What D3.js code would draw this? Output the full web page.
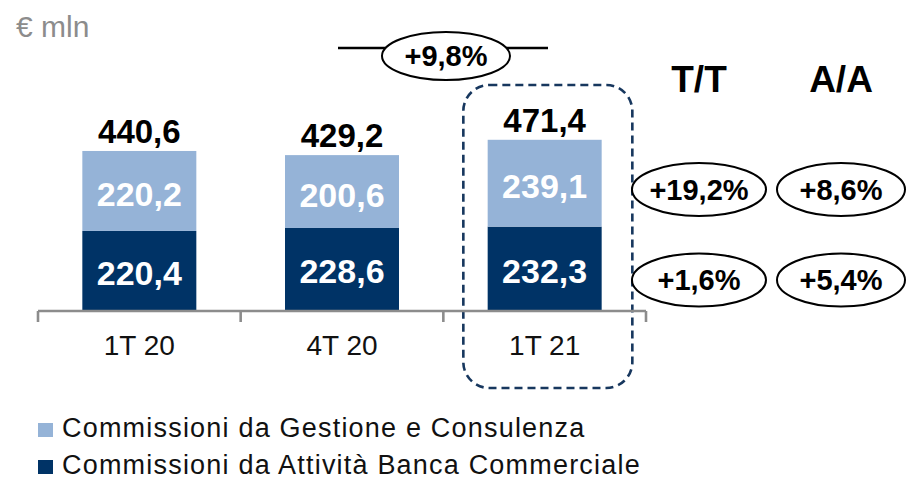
<!DOCTYPE html>
<html>
<head>
<meta charset="utf-8">
<script src="https://cdn.jsdelivr.net/npm/d3@7"></script>
<style>
  html, body { margin: 0; padding: 0; background: #fff; }
  svg { display: block; font-family: 'Liberation Sans', Arial, sans-serif; }
</style>
</head>
<body>
<div id="chart"></div>
<script>
const categories = ['1T 20', '4T 20', '1T 21'];
const gestione = [220.2, 200.6, 239.1];
const bancaCommerciale = [220.4, 228.6, 232.3];
const totals = [440.6, 429.2, 471.4];
const seriesNames = ['Commissioni da Gestione e Consulenza', 'Commissioni da Attività Banca Commerciale'];
const totalGrowth = '+9,8%';
const qoqLabels = ['+19,2%', '+1,6%'];
const yoyLabels = ['+8,6%', '+5,4%'];
const columnHeaders = ['T/T', 'A/A'];

const width = 906;
const height = 479;
const lightBlue = '#95b3d7';
const navy = '#003366';

const locale = d3.formatLocale({ decimal: ',', thousands: '.', grouping: [3], currency: ['€', ''] });
const fmt = locale.format('.1f');

const svg = d3
  .select('#chart')
  .append('svg')
  .attr('width', width)
  .attr('height', height)
  .attr('viewBox', `0 0 ${width} ${height}`);

const x = d3.scaleBand().domain(categories).range([38, 646]).padding(0);
const y = d3.scaleLinear().domain([0, 500]).range([311, 311 - 500 * 0.3632]);
const barW = x.bandwidth() * 0.5625;
const barX = (c) => x(c) + (x.bandwidth() - barW) / 2;

const rows = categories.map((c, i) => ({
  cat: c,
  low: bancaCommerciale[i],
  high: gestione[i],
  total: totals[i]
}));

// unit label
svg.append('text')
  .attr('x', 16)
  .attr('y', 37)
  .attr('font-size', 30)
  .attr('fill', '#8c8c8c')
  .text('€ mln');

// highlight box around last quarter
const last = categories[categories.length - 1];
svg.append('rect')
  .attr('x', x(last) + 20)
  .attr('y', 85)
  .attr('width', 169)
  .attr('height', 303)
  .attr('rx', 26)
  .attr('fill', 'none')
  .attr('stroke', '#17375e')
  .attr('stroke-width', 2.6)
  .attr('stroke-dasharray', '8,5');

// stacked bars
svg.append('g').selectAll('rect')
  .data(rows)
  .join('rect')
  .attr('x', (d) => barX(d.cat))
  .attr('y', (d) => y(d.low))
  .attr('width', barW)
  .attr('height', (d) => y(0) - y(d.low))
  .attr('fill', navy);

svg.append('g').selectAll('rect')
  .data(rows)
  .join('rect')
  .attr('x', (d) => barX(d.cat))
  .attr('y', (d) => y(d.low + d.high))
  .attr('width', barW)
  .attr('height', (d) => y(d.low) - y(d.low + d.high))
  .attr('fill', lightBlue);

// segment labels
const segLabels = svg.append('g')
  .attr('text-anchor', 'middle')
  .attr('font-weight', 'bold')
  .attr('font-size', 34)
  .attr('fill', '#fff');

segLabels.selectAll('text.low')
  .data(rows)
  .join('text')
  .attr('class', 'low')
  .attr('x', (d) => x(d.cat) + x.bandwidth() / 2)
  .attr('y', (d) => (y(0) + y(d.low)) / 2 + 14)
  .text((d) => fmt(d.low));

segLabels.selectAll('text.high')
  .data(rows)
  .join('text')
  .attr('class', 'high')
  .attr('x', (d) => x(d.cat) + x.bandwidth() / 2)
  .attr('y', (d) => (y(d.low) + y(d.low + d.high)) / 2 + 15)
  .text((d) => fmt(d.high));

// totals
svg.append('g').selectAll('text')
  .data(rows)
  .join('text')
  .attr('x', (d) => x(d.cat) + x.bandwidth() / 2)
  .attr('y', (d) => y(d.total) - 8)
  .attr('text-anchor', 'middle')
  .attr('font-weight', 'bold')
  .attr('font-size', 33)
  .attr('fill', '#000')
  .text((d) => fmt(d.total));

// x axis
const axis = svg.append('g')
  .attr('transform', `translate(0, ${y(0)})`)
  .call(d3.axisBottom(x).tickSize(0).tickPadding(24));
axis.select('.domain').remove();
axis.selectAll('text')
  .attr('font-size', 28)
  .attr('font-family', "'Liberation Sans', Arial, sans-serif")
  .attr('fill', '#111');

const bounds = categories.map((c) => x(c)).concat([x.range()[1]]);
axis.append('line')
  .attr('x1', x.range()[0])
  .attr('x2', x.range()[1])
  .attr('stroke', '#8c8c8c')
  .attr('stroke-width', 2.6);
axis.selectAll('line.tick-b')
  .data(bounds)
  .join('line')
  .attr('class', 'tick-b')
  .attr('x1', (d) => d)
  .attr('x2', (d) => d)
  .attr('y1', 0)
  .attr('y2', 11)
  .attr('stroke', '#8c8c8c')
  .attr('stroke-width', 2.6);

// overall growth bubble
const bubble = svg.append('g');
bubble.append('line')
  .attr('x1', 338).attr('x2', 548)
  .attr('y1', 48).attr('y2', 48)
  .attr('stroke', '#000')
  .attr('stroke-width', 2.5);
bubble.append('ellipse')
  .attr('cx', 446).attr('cy', 56)
  .attr('rx', 64).attr('ry', 24)
  .attr('fill', '#fff')
  .attr('stroke', '#000')
  .attr('stroke-width', 2);
bubble.append('text')
  .attr('x', 446).attr('y', 66)
  .attr('text-anchor', 'middle')
  .attr('font-weight', 'bold')
  .attr('font-size', 29)
  .text(totalGrowth);

// column headers
const colX = [699, 841];
svg.append('g').selectAll('text')
  .data(columnHeaders)
  .join('text')
  .attr('x', (d, i) => colX[i])
  .attr('y', 92)
  .attr('text-anchor', 'middle')
  .attr('font-weight', 'bold')
  .attr('font-size', 37)
  .text((d) => d);

// growth ellipses per series
const rowY = [189.5, 280];
const growthCells = [];
qoqLabels.forEach((t, i) => growthCells.push({ cx: colX[0], cy: rowY[i], rx: 67, text: t }));
yoyLabels.forEach((t, i) => growthCells.push({ cx: colX[1], cy: rowY[i], rx: 64, text: t }));

const cells = svg.append('g').selectAll('g')
  .data(growthCells)
  .join('g');
cells.append('ellipse')
  .attr('cx', (d) => d.cx)
  .attr('cy', (d) => d.cy)
  .attr('rx', (d) => d.rx)
  .attr('ry', 26.5)
  .attr('fill', '#fff')
  .attr('stroke', '#000')
  .attr('stroke-width', 2);
cells.append('text')
  .attr('x', (d) => d.cx)
  .attr('y', (d) => d.cy + 10)
  .attr('text-anchor', 'middle')
  .attr('font-weight', 'bold')
  .attr('font-size', 29)
  .text((d) => d.text);

// legend
const legend = svg.append('g').selectAll('g')
  .data(seriesNames)
  .join('g')
  .attr('transform', (d, i) => `translate(38, ${423 + i * 37})`);
legend.append('rect')
  .attr('width', 15)
  .attr('height', 14)
  .attr('fill', (d, i) => (i === 0 ? lightBlue : navy));
legend.append('text')
  .attr('x', 24)
  .attr('y', 14)
  .attr('font-size', 27)
  .attr('letter-spacing', 1.2)
  .attr('fill', '#111')
  .text((d) => d);
</script>
</body>
</html>
